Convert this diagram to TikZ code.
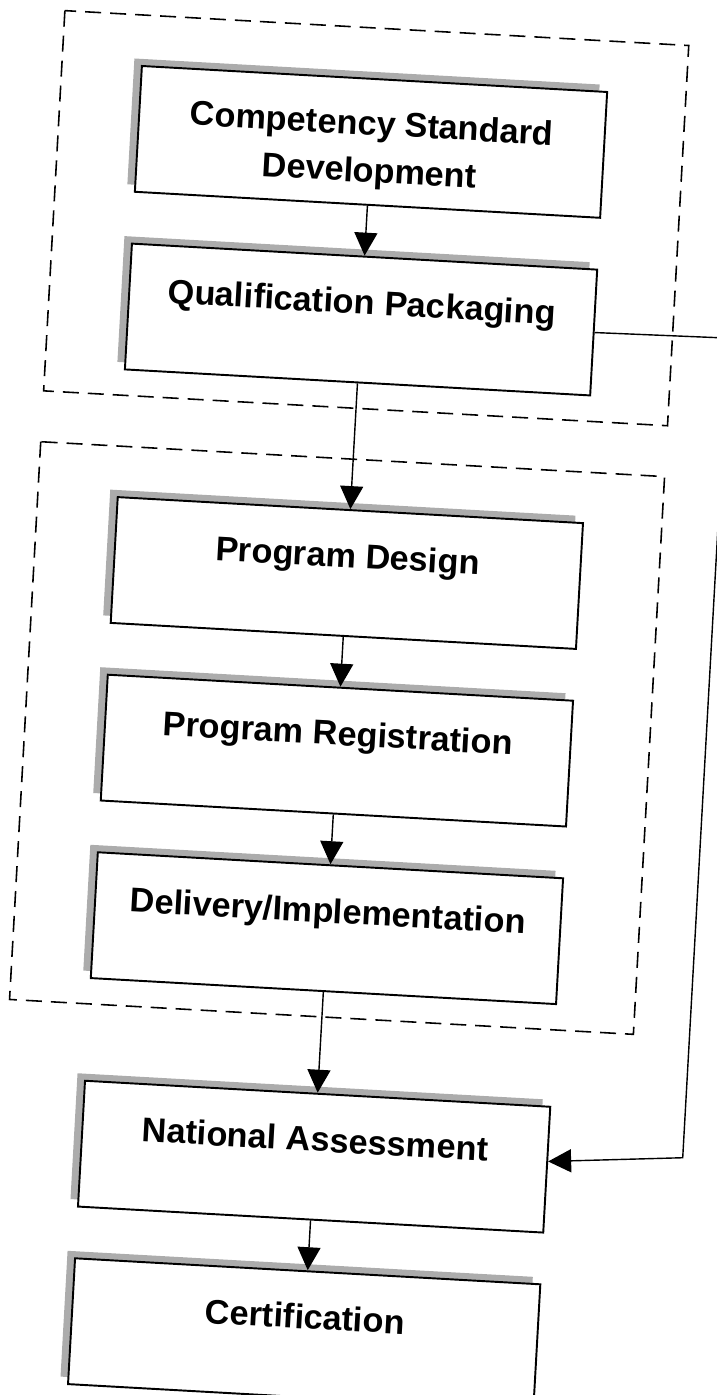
\documentclass[tikz,border=0pt]{standalone}
\usepackage{fontspec}
\setmainfont{Liberation Sans}
\usetikzlibrary{positioning,arrows.meta,shadows,calc}

\begin{document}
\begin{tikzpicture}[node distance=1cm,
    stage/.style={draw,line width=1.1pt,fill=white,minimum width=9.32cm,
      minimum height=2.52cm,align=center,font=\bfseries\fontsize{19.5}{27}\selectfont,
      drop shadow={shadow xshift=-0.15cm,shadow yshift=0.15cm,fill=gray!65,opacity=1}},
    lowtext/.style={text height=0.52cm,text depth=0.74cm},
    grp/.style={dash pattern=on 0.32cm off 0.18cm,line width=0.9pt},
    conn/.style={-{Triangle[length=0.46cm,width=0.46cm]},line width=0.8pt}]
  \useasboundingbox (0,0) rectangle (14.34,-27.9);
  % the scan is turned a little
  \begin{scope}[rotate around={-3.2:(7.16,-13.94)},transform shape]
    \node[stage] (CSD) at (6.8,-2.84) {\rule{0pt}{0.82cm}Competency Standard\\Development};
    \node[stage,lowtext,below=of CSD] (QP) {Qualification Packaging};
    \node[stage,lowtext,below=2.52cm of QP] (PD) {Program Design};
    \node[stage,lowtext,below=of PD] (PR) {Program Registration};
    \node[stage,lowtext,below=of PR] (DI) {Delivery/Implementation};
    \node[stage,lowtext,below=2.02cm of DI] (NA) {National Assessment};
    \node[stage,lowtext,below=of NA] (CE) {Certification};
    % dashed groups
    \draw[grp] ($(CSD.north west)+(-1.58,1)$) rectangle ($(QP.south east)+(1.56,-0.5)$);
    \draw[grp] ($(PD.north west)+(-1.58,1)$) rectangle ($(DI.south east)+(1.56,-0.5)$);
    % flow
    \foreach \a/\b in {CSD/QP,QP/PD,PD/PR,PR/DI,DI/NA,NA/CE}
      \draw[conn] (\a.south) -- (\b.north);
    \coordinate (fbtop) at (14.16,-6.36);
    \coordinate (fbbot) at (14.16,-22.78);
    \draw[conn] (QP.east) -- (fbtop) -- (fbbot) -- (NA.2.5);
  \end{scope}
\end{tikzpicture}
\end{document}
